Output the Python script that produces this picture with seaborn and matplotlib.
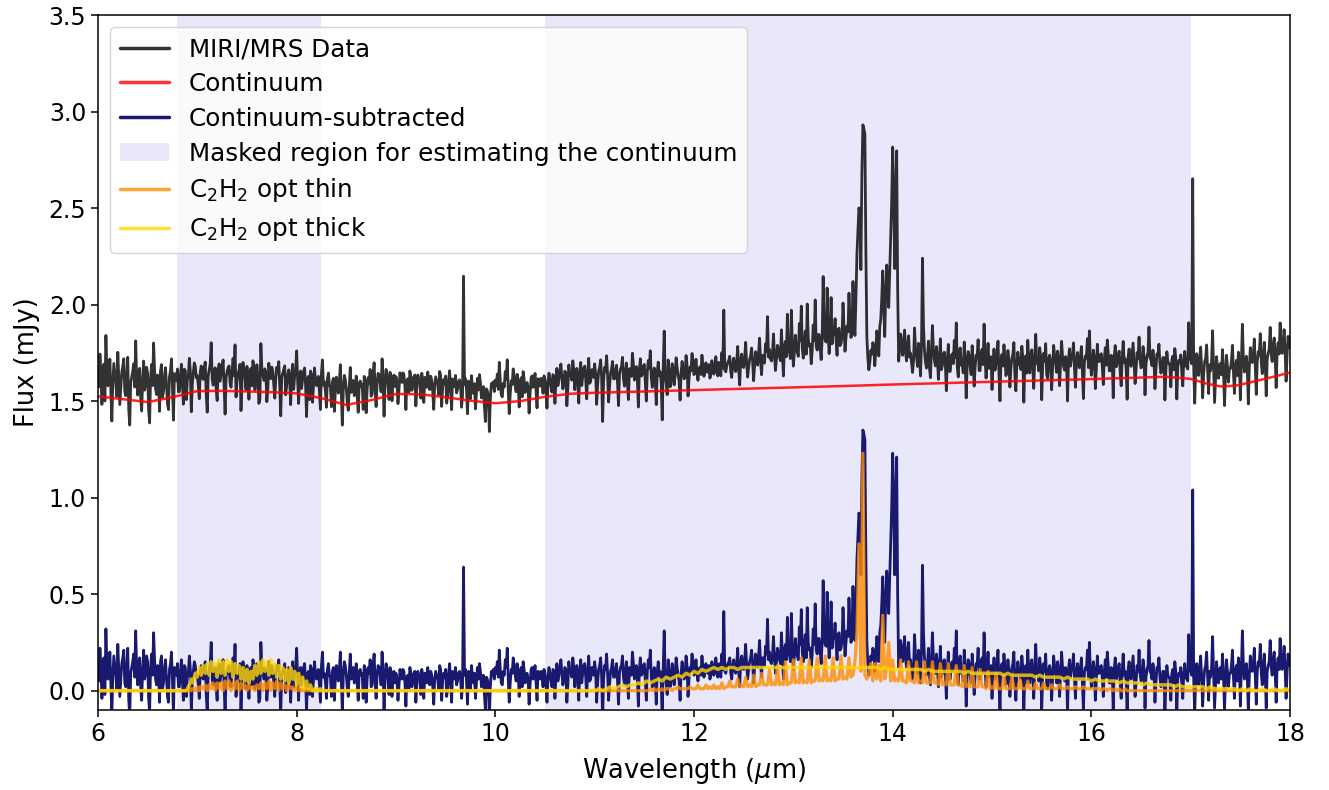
import numpy as np
import matplotlib
matplotlib.use("Agg")
import matplotlib.pyplot as plt
import seaborn as sns
from matplotlib.lines import Line2D
from matplotlib.patches import Patch

# ---------------------------------------------------------------------------
# Spectrum, sampled every 0.01 um from 6 to 18 um.
# Flux lists are in units of 0.01 mJy, one list per micron.
# "_a" lists hold the samples at even 0.02-um steps, "_b" lists the samples
# that fall half-way between them.
# ---------------------------------------------------------------------------
wl_start, wl_step = 6.0, 0.01

resid_06_a = [10, 22, -4, 17, 32, 6, 20, -12, 18, 8,
              24, -3, 14, 21, 2, 22, -13, 12, 19, 31,
              3, 17, -5, 21, 9, 15, -11, 19, 30, 6,
              13, -6, 18, 4, 16, -3, 11, 20, -12, 9,
              14, 2, 16, -5, 12, 7, 18, -10, 10, 13]
resid_06_b = [5, 12, 9, -2, 14, 11, 3, 8, 13, 1,
              10, 6, 17, 4, 12, -5, 9, 15, 7, 11,
              14, 2, 10, 6, 18, -4, 12, 8, 16, 3,
              9, 15, 1, 11, 7, -6, 14, 5, 12, 8,
              2, 10, 6, 13, -3, 9, 11, 4, 15, 7]
resid_07_a = [8, -4, 13, 6, 15, -11, 11, 25, 3, 12,
              -5, 14, 9, 16, -12, 10, 13, 2, 17, 24,
              5, 11, -10, 15, 8, 13, -4, 12, 16, 1,
              14, -6, 25, 9, 12, -5, 15, 7, 11, -3,
              13, 16, -12, 10, 14, 4, 12, -6, 15, 9]
resid_07_b = [3, 10, 7, 12, -2, 8, 14, 6, 9, 1,
              11, 5, 13, 2, 7, 12, 4, 10, 8, -3,
              9, 14, 5, 11, 1, 7, 10, 3, 13, 6,
              8, -4, 12, 6, 10, 2, 9, 13, 4, 7,
              11, 3, 8, 12, -1, 9, 6, 10, 2, 12]
resid_08_a = [22, -5, 12, 8, 14, -11, 10, 13, -3, 15,
              6, 11, -6, 20, 9, -4, 14, 7, 10, -5,
              13, 5, 20, -11, 15, 8, -3, 19, 10, 4,
              14, -5, 11, 9, 13, -6, 12, 16, 3, 19,
              -4, 13, 8, 20, -10, 14, 6, 12, -3, 10]
resid_08_b = [7, 10, 3, 12, 5, 9, -2, 11, 6, 8,
              10, 2, 13, 7, 4, 11, 8, -3, 12, 6,
              9, 11, 4, 8, 13, 1, 10, 6, 12, 7,
              3, 10, 8, -4, 11, 6, 9, 2, 13, 5,
              8, 12, 3, 9, 6, 11, -2, 10, 7, 4]
resid_09_a = [9, -5, 11, 6, 10, -8, 8, 12, 2, 9,
              -6, 10, 7, 11, -4, 9, 12, 3, 8, -7,
              10, 6, 13, -5, 9, 11, 1, 14, -6, 8,
              12, 5, 10, -4, 64, 11, -7, 9, 13, 4,
              -4, 12, 14, 2, 8, -10, 6, -15, 10, 11]
resid_09_b = [6, 2, 8, 11, 4, 7, 1, 9, 5, 10,
              3, 8, -2, 6, 9, 4, 7, 10, 2, 6,
              8, 1, 11, 5, 7, -3, 9, 4, 10, 6,
              3, 9, 7, 2, 8, 5, 10, 1, 7, 9,
              4, 6, 10, 5, -2, 7, 3, 2, 8, 6]
resid_10_a = [12, 15, 21, 4, 10, 16, 22, -6, 11, 17,
              8, 14, -3, 12, 15, 4, 9, -7, 11, 6,
              13, -5, 8, 10, 2, 9, -6, 12, 5, 11,
              -4, 14, 8, 16, 3, 12, -6, 15, 10, 17,
              2, 13, -5, 16, 9, 14, -3, 18, 6, 12]
resid_10_b = [9, 7, 11, 3, 8, 12, 6, 4, 9, 13,
              5, 10, 7, 2, 11, 8, 6, 3, 12, 9,
              4, 10, 6, 8, 11, 3, 7, 9, 2, 10,
              8, 5, 12, 9, 6, 11, 3, 10, 7, 12,
              9, 6, 11, 4, 13, 7, 10, 5, 12, 8]
resid_11_a = [15, -6, 11, 17, -15, 13, 19, -5, 10, 16,
              7, 14, -7, 12, 18, 3, 15, -4, 11, 20,
              6, 13, -8, 17, 9, 14, -5, 16, 21, 2,
              12, -7, 15, 10, -15, 31, 4, 16, 2, 14,
              3, 17, 8, -5, 15, 6, 18, -3, 12, 19]
resid_11_b = [10, 4, 13, 8, 6, 11, 9, 3, 12, 7,
              11, 5, 9, 13, 7, 10, 4, 12, 8, 14,
              9, 6, 11, 8, 13, 5, 10, 12, 7, 9,
              6, 10, 8, 4, 12, 7, -2, 10, 5, 11,
              8, 12, 5, 9, 11, 7, 13, 6, 10, 14]
resid_12_a = [8, 16, 5, 12, 18, 7, 14, 9, 6, 15,
              8, 17, 7, 13, 19, 41, 9, 14, 17, 6,
              16, 9, 22, 2, 18, 11, 24, 6, 15, 21,
              4, 19, 12, 26, 7, 17, 23, 37, 20, 14,
              28, 9, 22, 16, 30, 6, 24, 38, 19, 40]
resid_12_b = [10, 9, 11, 8, 12, 9, 10, 13, 8, 11,
              12, 9, 14, 7, 11, 10, 12, 15, 9, 13,
              11, 14, 10, 15, 12, 16, 13, 11, 17, 14,
              12, 16, 18, 14, 17, 13, 19, 16, 15, 18,
              17, 15, 20, 14, 18, 21, 16, 19, 15, 22]
resid_13_a = [11, 27, 18, 33, 42, 15, 29, 43, 21, 12,
              32, 45, 19, 27, 14, 57, 24, 51, 17, 46,
              28, 35, 16, 30, 22, 43, 18, 31, 48, 25,
              54, 26, 68, 92, 60, 135, 130, 25, 8, 18,
              22, 10, 28, 15, 34, 59, 25, 62, 40, 78]
resid_13_b = [18, 21, 16, 24, 20, 23, 17, 25, 22, 19,
              24, 21, 27, 20, 25, 30, 23, 28, 26, 22,
              27, 24, 29, 21, 26, 30, 25, 28, 33, 27,
              35, 45, 80, 90, 110, 133, 70, 14, 12, 16,
              20, 18, 24, 30, 45, 40, 48, 50, 58, 95]
resid_14_a = [123, 60, 121, 12, 26, 15, 28, 12, 25, 16,
              6, 29, 14, 21, 4, 65, 17, 8, 22, 3,
              30, 12, 19, 2, 23, 9, 16, -4, 20, 6,
              15, 22, 31, 3, 18, 10, 21, -8, 16, 8,
              19, -2, 14, 22, 6, 17, 30, 2, 20, 11]
resid_14_b = [100, 95, 50, 18, 20, 22, 16, 20, 14, 11,
              12, 18, 9, 15, 20, 30, 11, 14, 8, 16,
              17, 9, 13, 11, 7, 15, 10, 12, 6, 14,
              10, 13, 8, 16, 9, 5, 12, 9, 14, 4,
              11, 8, 13, 6, 15, 9, 12, 10, 7, 13]
resid_15_a = [-4, 17, 9, 21, -10, 14, 19, 3, 16, -3,
              12, 20, -5, 15, 8, 18, -11, 13, 21, 4,
              16, -4, 24, 10, 17, -10, 14, 19, 1, 13,
              -5, 18, 9, 15, -3, 20, 7, 12, -11, 16,
              11, 19, -4, 14, 6, 17, -10, 12, 21, 25]
resid_15_b = [9, 6, 13, 4, 11, 8, 12, 5, 10, 7,
              14, 3, 9, 11, 6, 12, 8, 4, 10, 13,
              7, 11, 9, 5, 12, 8, 10, 3, 11, 9,
              6, 13, 4, 10, 8, 12, 5, 9, 11, 7,
              13, 6, 10, 8, 12, 4, 9, 11, 6, 10]
resid_16_a = [2, 15, -5, 18, 9, 13, -3, 16, 20, 4,
              12, -10, 17, 8, 14, -4, 19, 10, -11, 15,
              6, 18, -3, 13, 21, 5, 16, -9, 11, 26,
              9, 14, -6, 12, 17, 2, 10, -12, 13, 7,
              -5, 11, 15, -11, 9, 12, -4, 14, 6, 29]
resid_16_b = [8, 11, 5, 9, 12, 6, 10, 7, 13, 4,
              9, 11, 6, 12, 3, 10, 8, 5, 11, 7,
              12, 8, 4, 10, 9, 6, 11, 7, 13, 10,
              6, 9, 4, 11, 7, 5, 10, 3, 8, 6,
              9, 4, 10, 6, 8, 3, 9, 7, 5, 12]
resid_17_a = [10, 104, -12, 14, 3, 18, -8, 11, 20, -5,
              7, 28, -9, 15, 4, 12, 19, -10, 16, 2,
              9, 21, -4, 13, 17, -8, 31, 6, 14, -11,
              18, 10, 22, -7, 15, 24, 3, 19, -9, 13,
              26, 8, 20, -6, 17, 27, 11, 23, -4, 19]
resid_17_b = [8, 6, 5, 9, 12, 7, 4, 13, 8, 10,
              12, 10, 3, 9, 11, 6, 8, 5, 10, 9,
              13, 7, 10, 5, 11, 12, 14, 9, 6, 8,
              11, 14, 7, 10, 13, 9, 12, 8, 10, 15,
              12, 16, 10, 13, 11, 14, 16, 12, 9, 13]
resid_18_a = [15]

# Fitted continuum (mJy) at its knots
cont_wl = [6.0, 6.25, 6.5, 6.75, 7.0, 7.25, 7.5, 7.75, 8.0, 8.25,
           8.5, 8.75, 9.0, 9.25, 9.5, 9.75, 10.0, 10.25, 10.5, 10.75,
           11.0, 11.5, 12.0, 12.5, 13.0, 13.5, 14.0, 14.5, 15.0, 15.5,
           16.0, 16.5, 16.75, 17.0, 17.15, 17.3, 17.45, 17.6, 17.8, 18.0]
cont_flux = [1.525, 1.510, 1.495, 1.520, 1.552, 1.553, 1.550, 1.546, 1.540, 1.515,
             1.480, 1.505, 1.537, 1.535, 1.520, 1.502, 1.489, 1.500, 1.522, 1.538,
             1.543, 1.550, 1.557, 1.564, 1.571, 1.578, 1.586, 1.593, 1.600, 1.607,
             1.614, 1.622, 1.626, 1.615, 1.592, 1.576, 1.580, 1.597, 1.622, 1.648]

# Spectral regions excluded from the continuum fit (um)
mask_lo = [6.8, 10.5]
mask_hi = [8.25, 17.0]

# C2H2 optically thin slab model (0.01 mJy)
thin_start_a = 6.90          # 0.01-um sampling (a/b interleaved)
thin_a_a = [0, 1, 0, 1, 0, 2, 0, 2, 1, 3,
            0, 3, 1, 4, 0, 4, 1, 4, 0, 5,
            1, 5, 0, 4, 1, 5, 0, 4, 1, 3,
            0, 3, 1, 2, 0, 3, 1, 4, 0, 4,
            1, 5, 0, 4, 1, 5, 0, 4, 1, 3,
            0, 3, 1, 2, 0, 2, 0, 1, 0, 1,
            0, 1, 0, 0, 0]
thin_a_b = [0, 1, 1, 1, 1, 1, 2, 1, 2, 2,
            2, 2, 3, 2, 3, 2, 3, 3, 3, 3,
            4, 3, 3, 4, 3, 3, 2, 3, 2, 2,
            1, 2, 1, 2, 2, 2, 3, 2, 3, 3,
            3, 3, 4, 3, 3, 4, 3, 3, 2, 2,
            2, 2, 1, 1, 1, 1, 1, 0, 0, 0,
            0, 0, 0, 0, 0]
thin_start_b, thin_step_b = 11.50, 0.02
thin_b = [0, 0, 0, 1, 0, 1, 0, 1, 0, 1, 0, 1, 1, 1, 0, 1, 1, 2, 1, 1,
          1, 1, 1, 2, 1, 1, 1, 3, 1, 1, 1, 3, 1, 2, 1, 3, 1, 2, 1, 4,
          1, 2, 2, 5, 2, 2, 2, 6, 2, 3, 2, 7, 2, 3, 2, 8, 2, 3, 3, 9,
          3, 3, 3, 11, 3, 4, 3, 13, 3, 4, 3, 15, 3, 4, 4, 16, 4, 5, 4, 17,
          4, 5, 4, 16, 4, 5, 5, 17, 5, 6, 5, 18, 5, 6, 5, 17, 5, 6, 6, 18,
          6, 7, 6, 17, 7,
          8, 15, 30, 76, 10, 123, 8, 6, 9, 14,
          5, 14, 6, 13, 5, 39, 6, 12, 25, 5,
          16, 5, 6, 5, 16, 5, 5, 4, 15, 5, 5, 4, 15, 4, 5, 4, 15, 4, 4, 4,
          15, 4, 4, 3, 14, 3, 4, 3, 14, 3, 3, 3, 13, 3, 3, 2, 13, 2, 3, 2,
          12, 2, 2, 2, 11, 2, 2, 1, 10, 1, 2, 1, 9, 1, 1, 1, 8, 1, 1, 1,
          7, 1, 1, 1, 6, 1, 1, 1, 5, 1, 1, 1, 4, 1, 1, 1, 4, 1, 1, 1,
          3, 1, 1, 1, 3, 1, 1, 1, 2, 1, 1, 1, 2, 1, 1, 1, 2, 1, 1, 1,
          1, 1, 1, 1, 1, 0, 1, 1, 0, 1, 1, 0, 1, 0, 1, 0, 0, 1, 0, 0]

# C2H2 optically thick slab model (0.01 mJy)
thick_start_a = 6.88         # 0.01-um sampling (a/b interleaved)
thick_a_a = [0, 1, 3, 6, 4, 9, 7, 12, 8, 13,
             9, 14, 8, 15, 10, 14, 7, 16, 9, 15,
             8, 16, 10, 15, 7, 14, 9, 13, 6, 12,
             5, 11, 4, 10, 6, 13, 8, 15, 9, 16,
             10, 15, 8, 16, 9, 14, 7, 13, 6, 12,
             5, 11, 4, 12, 6, 10, 3, 9, 2, 7,
             1, 5, 1, 3, 0, 1, 1, 0, 1, 0]
thick_a_b = [0, 2, 4, 5, 7, 9, 10, 11, 12, 11,
             12, 11, 13, 12, 12, 11, 13, 12, 13, 11,
             12, 13, 11, 12, 13, 11, 10, 11, 9, 8,
             9, 7, 8, 9, 10, 11, 12, 12, 13, 12,
             13, 12, 13, 11, 12, 13, 10, 11, 10, 9,
             8, 8, 7, 8, 6, 7, 5, 5, 4, 3,
             2, 2, 1, 1, 0, 0, 1, 0, 0, 0]
thick_start_b, thick_step_b = 11.00, 0.04
thick_b = [0, 1, 0, 1, 2, 1, 2, 3, 2, 3,
           3, 4, 3, 5, 4, 5, 6, 5, 7, 6,
           7, 8, 7, 9, 8, 10, 9, 11, 10, 11,
           12, 11, 12, 11, 12, 12, 11, 12, 12, 12,
           12, 12, 12, 12, 12, 12, 12, 12, 12, 12,
           12, 12, 12, 12, 12, 12, 12, 12, 12, 12,
           12, 12, 12, 12, 12, 12, 12, 12, 12, 12,
           12, 12, 11, 12, 11, 11, 11, 11, 11, 11,
           11, 11, 11, 10, 11, 10, 10, 10, 10, 10,
           10, 10, 10, 9, 10, 9, 9, 9, 9, 9,
           9, 9, 9, 8, 9, 8, 8, 8, 8, 8,
           8, 7, 8, 7, 7, 7, 7, 7, 6, 7,
           6, 6, 6, 6, 6, 5, 6, 5, 5, 5,
           5, 5, 4, 5, 4, 4, 4, 4, 3, 4,
           3, 3, 3, 3, 3, 3, 2, 3, 2, 2,
           2, 2, 2, 2, 1, 2, 1, 1, 1, 1,
           1, 1, 0, 1, 0, 1, 0, 0, 1, 0,
           0, 1, 0, 0, 1, 0]


# ---------------------------------------------------------------------------
# Assemble arrays
# ---------------------------------------------------------------------------
def interleave(a, b):
    out = np.empty(len(a) + len(b), dtype=float)
    out[0::2] = a
    out[1::2] = b
    return out


resid_a = (resid_06_a + resid_07_a + resid_08_a + resid_09_a + resid_10_a
           + resid_11_a + resid_12_a + resid_13_a + resid_14_a + resid_15_a
           + resid_16_a + resid_17_a + resid_18_a)
resid_b = (resid_06_b + resid_07_b + resid_08_b + resid_09_b + resid_10_b
           + resid_11_b + resid_12_b + resid_13_b + resid_14_b + resid_15_b
           + resid_16_b + resid_17_b)
resid = interleave(resid_a, resid_b) / 100.0
wl = wl_start + wl_step * np.arange(resid.size)
flux = np.interp(wl, cont_wl, cont_flux) + resid


def model_curve(parts):
    """Join model segments, holding zero flux in the gaps and at the edges."""
    xs, ys = [np.array([wl[0]])], [np.array([0.0])]
    for start, step, values in parts:
        y = np.asarray(values, dtype=float) / 100.0
        x = start + step * np.arange(y.size)
        xs += [np.array([x[0] - step]), x, np.array([x[-1] + step])]
        ys += [np.array([0.0]), y, np.array([0.0])]
    xs.append(np.array([wl[-1]]))
    ys.append(np.array([0.0]))
    return np.concatenate(xs), np.concatenate(ys)


thin_x, thin_y = model_curve([(thin_start_a, wl_step, interleave(thin_a_a, thin_a_b)),
                              (thin_start_b, thin_step_b, thin_b)])
thick_x, thick_y = model_curve([(thick_start_a, wl_step, interleave(thick_a_a, thick_a_b)),
                                (thick_start_b, thick_step_b, thick_b)])

# ---------------------------------------------------------------------------
# Plot
# ---------------------------------------------------------------------------
sns.set_style("ticks", rc={"axes.edgecolor": "black", "text.color": "black",
                           "axes.labelcolor": "black", "xtick.color": "black",
                           "ytick.color": "black"})
plt.rcParams["font.family"] = ["DejaVu Sans"]
plt.rcParams["mathtext.fontset"] = "dejavusans"

fig = plt.figure(figsize=(13.29, 7.90), dpi=100)
ax = fig.add_axes([0.0737, 0.1013, 0.8970, 0.8797])

c_data, c_cont, c_sub = "black", "red", "midnightblue"
c_thin, c_thick, c_mask = "darkorange", "gold", "lavender"
lw = 2.0

for lo, hi in zip(mask_lo, mask_hi):
    ax.axvspan(lo, hi, color=c_mask, alpha=0.9, lw=0, zorder=0)

kw = dict(ax=ax, sort=False, estimator=None, legend=False)
sns.lineplot(x=wl, y=flux, color=c_data, alpha=0.8, lw=lw, **kw)
sns.lineplot(x=cont_wl, y=cont_flux, color=c_cont, alpha=0.85, lw=1.8, **kw)
sns.lineplot(x=wl, y=resid, color=c_sub, alpha=1.0, lw=lw, **kw)
sns.lineplot(x=thin_x, y=thin_y, color=c_thin, alpha=0.8, lw=2.3, **kw)
sns.lineplot(x=thick_x, y=thick_y, color=c_thick, alpha=0.8, lw=2.5, **kw)

ax.set_xlim(6, 18)
ax.set_ylim(-0.1, 3.5)
ax.set_xticks(np.arange(6, 19, 2))
ax.set_yticks(np.arange(0, 3.51, 0.5))
ax.tick_params(axis="both", labelsize=17, length=5, width=1.1, color="black")
for s in ax.spines.values():
    s.set_color("black")
    s.set_linewidth(1.1)
ax.set_xlabel(r"Wavelength ($\mu$m)", fontsize=18.5, labelpad=7)
ax.set_ylabel("Flux (mJy)", fontsize=18.5, labelpad=6)

handles = [
    Line2D([], [], color=c_data, alpha=0.8, lw=2.5),
    Line2D([], [], color=c_cont, alpha=0.8, lw=2.5),
    Line2D([], [], color=c_sub, lw=2.5),
    Patch(facecolor=c_mask, alpha=0.9, lw=0),
    Line2D([], [], color=c_thin, alpha=0.8, lw=2.5),
    Line2D([], [], color=c_thick, alpha=0.8, lw=2.5),
]
labels = ["MIRI/MRS Data", "Continuum", "Continuum-subtracted",
          "Masked region for estimating the continuum",
          r"C$_2$H$_2$ opt thin", r"C$_2$H$_2$ opt thick"]
ax.legend(handles, labels, loc="upper left", fontsize=17.7, frameon=True,
          framealpha=0.8, edgecolor="0.8", fancybox=True, labelspacing=0.44)

fig.savefig("out.png", dpi=100)
